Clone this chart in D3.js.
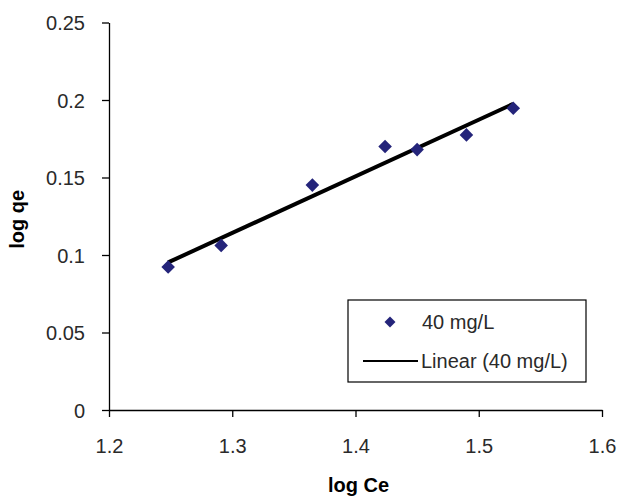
<!DOCTYPE html>
<html>
<head>
<meta charset="utf-8">
<script src="https://cdn.jsdelivr.net/npm/d3@7.9.0/dist/d3.min.js"></script>
<style>
  body { margin: 0; background: #fff; }
  svg { display: block; font-family: "Liberation Sans", Arial, sans-serif; }
</style>
</head>
<body>
<svg id="chart" width="617" height="496"></svg>
<script>
// data
const logCe = [1.248, 1.291, 1.365, 1.424, 1.450, 1.490, 1.528];
const logQe = [0.0923, 0.1062, 0.1451, 0.170, 0.168, 0.1775, 0.1947];
const xTicks = [1.2, 1.3, 1.4, 1.5, 1.6];
const yTicks = [0, 0.05, 0.1, 0.15, 0.2, 0.25];
const seriesName = '40 mg/L';

const svg = d3.select('#chart');
const x = d3.scaleLinear().domain([1.2, 1.6]).range([109, 602]);
const y = d3.scaleLinear().domain([0, 0.25]).range([410, 22.5]);

//axes
const xAxis = svg.append('g')
    .attr('transform', `translate(0,${y(0)})`)
    .call(d3.axisBottom(x).tickValues(xTicks).tickSize(7).tickSizeOuter(0).tickPadding(22)
        .tickFormat(d3.format('.1f')));
const yAxis = svg.append('g')
    .attr('transform', `translate(${x(1.2)},0)`)
    .call(d3.axisLeft(y).tickValues(yTicks).tickSize(7).tickSizeOuter(0).tickPadding(17)
        .tickFormat(d => String(+d.toFixed(2))));

[xAxis, yAxis].forEach(g => {
    g.select('.domain').attr('stroke', '#000').attr('stroke-width', 1.3);
    g.selectAll('.tick line').attr('stroke', '#000').attr('stroke-width', 1.3);
    g.selectAll('.tick text').attr('fill', '#2a2a2a').style('font-size', '20px')
        .style('font-family', '"Liberation Sans", Arial, sans-serif');
});
xAxis.selectAll('.tick text').attr('dy', '0.71em');
yAxis.selectAll('.tick text').attr('dy', '0.36em');

//axis titles
svg.append('text')
    .attr('x', (x(1.2) + x(1.6)) / 2 + 3).attr('y', 492)
    .attr('text-anchor', 'middle')
    .style('font-size', '20px').style('font-weight', 'bold')
    .text('log Ce');
svg.append('text')
    .attr('transform', `translate(24,${(y(0) + y(0.25)) / 2 + 3}) rotate(-90)`)
    .attr('text-anchor', 'middle')
    .style('font-size', '20px').style('font-weight', 'bold')
    .text('log qe');

//linear trend line (least squares fit of the series)
const mx = d3.mean(logCe), my = d3.mean(logQe);
const slope = d3.sum(logCe, (v, i) => (v - mx) * (logQe[i] - my)) / d3.sum(logCe, v => (v - mx) ** 2);
const fit = v => my + slope * (v - mx);
const ends = d3.extent(logCe);
svg.append('path')
    .attr('d', d3.line().x(d => x(d)).y(d => y(fit(d)))(ends))
    .attr('stroke', '#000').attr('stroke-width', 4).attr('fill', 'none');

//points
const diamond = d3.symbol().type(d3.symbolSquare).size(92);
svg.append('g').selectAll('path')
    .data(logCe.map((v, i) => [v, logQe[i]]))
    .join('path')
    .attr('d', diamond)
    .attr('transform', d => `translate(${x(d[0])},${y(d[1])}) rotate(45)`)
    .attr('fill', '#24247a');

//legend
const legend = svg.append('g');
legend.append('rect')
    .attr('x', 348).attr('y', 300).attr('width', 238).attr('height', 82)
    .attr('fill', '#fff').attr('stroke', '#000').attr('stroke-width', 1.2);
legend.append('path')
    .attr('d', d3.symbol().type(d3.symbolSquare).size(60))
    .attr('transform', 'translate(390,322) rotate(45)')
    .attr('fill', '#24247a');
legend.append('text')
    .attr('x', 422).attr('y', 322).attr('dy', '0.36em')
    .style('font-size', '20px').attr('fill', '#2a2a2a')
    .text(seriesName);
legend.append('line')
    .attr('x1', 363).attr('x2', 418).attr('y1', 361).attr('y2', 361)
    .attr('stroke', '#000').attr('stroke-width', 2.2);
legend.append('text')
    .attr('x', 421).attr('y', 361).attr('dy', '0.36em')
    .style('font-size', '20px').attr('fill', '#2a2a2a')
    .text(`Linear (${seriesName})`);
</script>
</body>
</html>
